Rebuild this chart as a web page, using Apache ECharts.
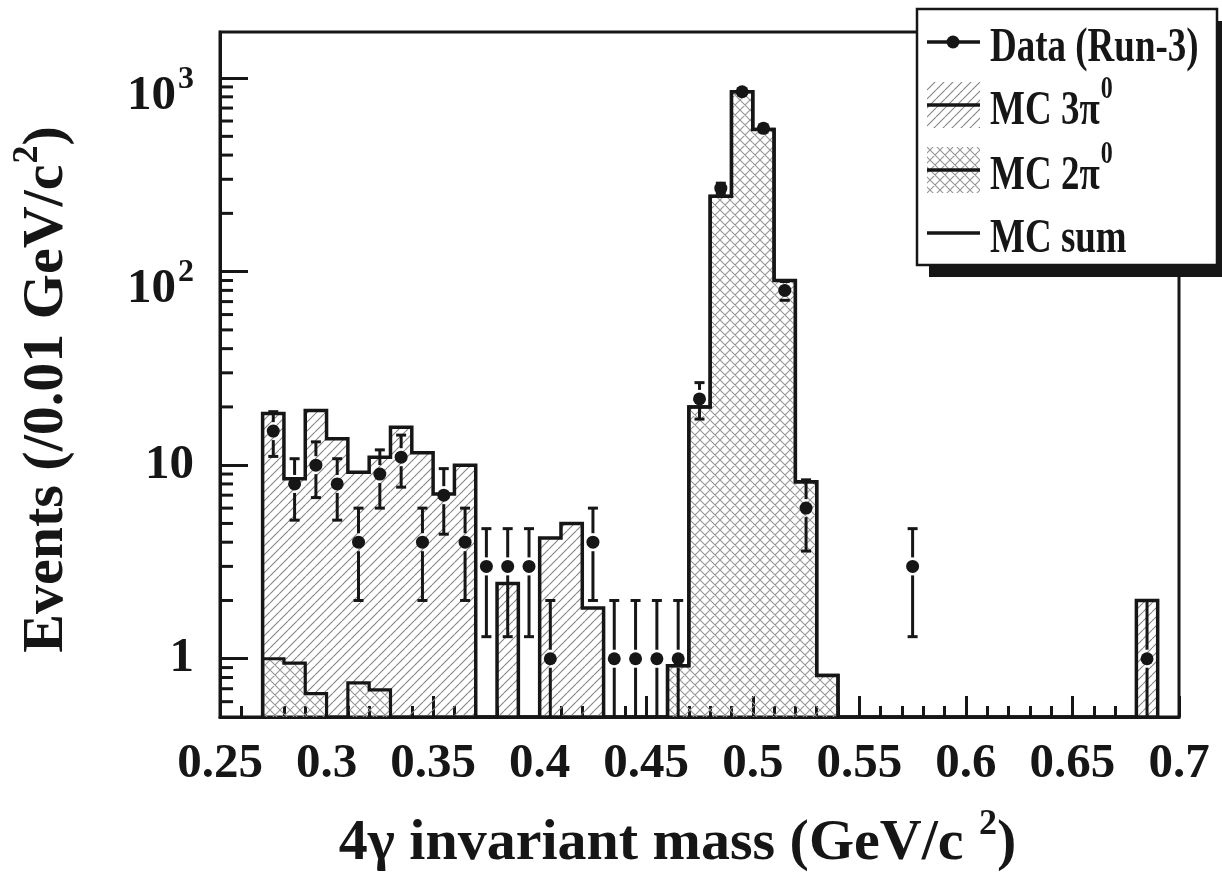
<!DOCTYPE html>
<html><head><meta charset="utf-8">
<script src="https://cdn.jsdelivr.net/npm/echarts@6.0.0/dist/echarts.min.js"></script>
<style>html,body{margin:0;padding:0;background:#fff}#c{width:1222px;height:878px}</style>
</head><body><div id="c"></div>
<script>
// ---------------- data ----------------
const BIN_W = 0.01;
const binLow = [0.27,0.28,0.29,0.30,0.31,0.32,0.33,0.34,0.35,0.36,
                0.37,0.38,0.39,0.40,0.41,0.42,0.43,0.44,0.45,0.46,
                0.47,0.48,0.49,0.50,0.51,0.52,0.53,0.54,0.55,0.56,
                0.57,0.58,0.59,0.60,0.61,0.62,0.63,0.64,0.65,0.66,
                0.67,0.68];
// MC 2pi0 (bottom of the stack)
const mc2pi = [1.0,0.95,0.66,0,0.75,0.69,0,0,0,0,
               0,0,0,0,0,0,0,0,0,0.92,
               20,245,851,543,90,8.2,0.82,0,0,0,
               0,0,0,0,0,0,0,0,0,0,
               0,0];
// MC 3pi0 (stacked on top of 2pi0)
const mc3pi = [17.5,7.55,18.5,13.7,8.45,10.3,15.7,11.6,7.1,10.0,
               0,2.45,0,4.2,5.0,1.83,0,0,0,0,
               0,0,0,0,0,0,0,0,0,0,
               0,0,0,0,0,0,0,0,0,0,
               0,2.0];
// Data (Run-3)
const dataMass   = [0.275,0.285,0.295,0.305,0.315,0.325,0.335,0.345,0.355,0.365,0.375,0.385,0.395,0.405,0.425,0.435,0.445,0.455,0.465,0.475,0.485,0.495,0.505,0.515,0.525,0.575,0.685];
const dataEvents = [15,8,10,8,4,9,11,4,7,4,3,3,3,1,4,1,1,1,1,22,270,850,550,80,6,3,1];
const dataErr    = [3.9,2.8,3.2,2.8,2.0,3.0,3.3,2.0,2.6,2.0,1.7,1.7,1.7,1.0,2.0,1.0,1.0,1.0,1.0,4.7,16.4,29.2,23.5,8.9,2.4,1.7,1.0];
// axis ticks
const xTickLabels = ['0.25','0.3','0.35','0.4','0.45','0.5','0.55','0.6','0.65','0.7'];
const yTickValues = [1,10,100,1000];
const yTickLabels = ['{b|1}','{b|10}','{p|10}{s|2}','{p|10}{s|3}'];
const yMinorTicks = [0.6,0.7,0.8,0.9,2,3,4,5,6,7,8,9,20,30,40,50,60,70,80,90,200,300,400,500,600,700,800,900];

// ---------------- style ----------------
const X_MIN = 0.25, X_MAX = 0.7, Y_MIN = 0.5, Y_MAX = 1730;
const FONT = '"Liberation Serif", "Times New Roman", serif';
const INK = '#161616';

function makePattern(cross, s, color) {
  const c = document.createElement('canvas');
  c.width = s; c.height = s;
  const g = c.getContext('2d');
  g.strokeStyle = color; g.lineWidth = 1.1;
  g.beginPath();
  for (const k of [-1, 0, 1]) {
    g.moveTo(k * s, s); g.lineTo(k * s + s, 0);
    if (cross) { g.moveTo(k * s, 0); g.lineTo(k * s + s, s); }
  }
  g.stroke();
  return c;
}
const hatchImg = makePattern(false, 9, '#858585');
const crossImg = makePattern(true, 10, '#959595');
const hatch = {image: hatchImg, repeat: 'repeat'};
const cross = {image: crossImg, repeat: 'repeat'};

const chart = echarts.init(document.getElementById('c'), null, {renderer: 'canvas'});

function stackTop(i) { return mc2pi[i] + mc3pi[i]; }

function outlineSeries(getVal, lw, z) {
  return {
    type: 'custom', coordinateSystem: 'cartesian2d', clip: true, z: z, silent: true,
    data: [[binLow[0], 1]], encode: {x: 0, y: 1},
    renderItem: function (params, api) {
      const pts = [];
      pts.push(api.coord([binLow[0], Y_MIN]));
      for (let i = 0; i < binLow.length; i++) {
        const v = getVal(i);
        const y = v > 0 ? v : Y_MIN;
        pts.push(api.coord([binLow[i], y]));
        pts.push(api.coord([binLow[i] + BIN_W, y]));
      }
      pts.push(api.coord([binLow[binLow.length - 1] + BIN_W, Y_MIN]));
      return {type: 'polyline', shape: {points: pts},
              style: {fill: null, stroke: INK, lineWidth: lw, lineJoin: 'miter'}};
    }
  };
}

const fill3 = [], fill2 = [];
binLow.forEach((x, i) => {
  if (mc3pi[i] > 0) fill3.push([x, stackTop(i), mc2pi[i]]);
  if (mc2pi[i] > 0) fill2.push([x, mc2pi[i]]);
});

const errData = dataMass.map((m, i) => [m, dataEvents[i], dataErr[i]]);
const R = 6.5;

const textBase = {fontFamily: FONT, fontWeight: 'bold', color: INK};

const option = {
  animation: false,
  backgroundColor: '#fff',
  grid: {left: 220, right: 43, top: 32, bottom: 161, show: true,
         borderColor: INK, borderWidth: 3, backgroundColor: 'transparent'},
  xAxis: {
    type: 'value', min: X_MIN, max: X_MAX, interval: 0.05,
    axisLine: {show: true, onZero: false, lineStyle: {color: INK, width: 3}},
    axisTick: {show: true, inside: true, length: 21, lineStyle: {color: INK, width: 3}},
    minorTick: {show: true, splitNumber: 5, length: 11, lineStyle: {color: INK, width: 3}},
    splitLine: {show: false},
    axisLabel: Object.assign({fontSize: 49, margin: 23,
      formatter: v => xTickLabels[Math.round((v - X_MIN) / 0.05)] || ''}, textBase),
    name: '{b|4γ invariant mass (GeV/c }{s|2}{b|)}',
    nameLocation: 'middle', nameGap: 90,
    nameTextStyle: {padding: [0, 44, 0, 0], rich: {
      b: Object.assign({fontSize: 58, padding: [8, 0, 0, 0], verticalAlign: 'bottom'}, textBase),
      s: Object.assign({fontSize: 36, padding: [0, 0, 0, 1], verticalAlign: 'top'}, textBase)
    }}
  },
  yAxis: {
    type: 'log', logBase: 10, min: Y_MIN, max: Y_MAX,
    axisLine: {show: true, lineStyle: {color: INK, width: 3}},
    axisTick: {show: true, inside: true, length: 28, lineStyle: {color: INK, width: 3}},
    splitLine: {show: false},
    axisLabel: {margin: 26, showMinLabel: false, showMaxLabel: false,
      formatter: function (v) {
        for (let k = 0; k < yTickValues.length; k++) {
          if (Math.abs(v - yTickValues[k]) < 1e-6 * yTickValues[k]) return yTickLabels[k];
        }
        return '';
      },
      rich: {
        b: Object.assign({fontSize: 49}, textBase),
        p: Object.assign({fontSize: 49, padding: [36, 0, 0, 0], verticalAlign: 'bottom'}, textBase),
        s: Object.assign({fontSize: 32, padding: [28, 0, 0, 2], verticalAlign: 'top'}, textBase)
      }
    },
    name: '{b|Events (/0.01 GeV/c}{s|2}{b|)}',
    nameLocation: 'middle', nameGap: 144,
    nameTextStyle: {padding: [0, 30, 0, 0], rich: {
      b: Object.assign({fontSize: 58, padding: [8, 0, 0, 0], verticalAlign: 'bottom'}, textBase),
      s: Object.assign({fontSize: 36, padding: [0, 0, 0, 1], verticalAlign: 'top'}, textBase)
    }}
  },
  series: [
    { // MC 3pi0 hatched layer (stacked on 2pi0)
      type: 'custom', name: 'MC 3π0', coordinateSystem: 'cartesian2d', clip: true, z: 2, silent: true,
      data: fill3, encode: {x: 0, y: 1},
      renderItem: function (params, api) {
        const x0 = api.value(0), top = api.value(1), base = Math.max(api.value(2), Y_MIN);
        const a = api.coord([x0, base]), b = api.coord([x0 + BIN_W, top]);
        return {type: 'rect', shape: {x: a[0], y: b[1], width: b[0] - a[0], height: a[1] - b[1]},
                style: {fill: hatch}};
      }
    },
    { // MC 2pi0 cross-hatched layer
      type: 'custom', name: 'MC 2π0', coordinateSystem: 'cartesian2d', clip: true, z: 2, silent: true,
      data: fill2, encode: {x: 0, y: 1},
      renderItem: function (params, api) {
        const x0 = api.value(0), top = api.value(1);
        const a = api.coord([x0, Y_MIN]), b = api.coord([x0 + BIN_W, top]);
        return {type: 'rect', shape: {x: a[0], y: b[1], width: b[0] - a[0], height: a[1] - b[1]},
                style: {fill: cross}};
      }
    },
    outlineSeries(i => mc2pi[i], 3.2, 3),
    outlineSeries(i => stackTop(i), 3.5, 4),
    { // error bars
      type: 'custom', coordinateSystem: 'cartesian2d', clip: true, z: 5, silent: true,
      data: errData, encode: {x: 0, y: 1},
      renderItem: function (params, api) {
        const x = api.value(0), y = api.value(1), e = api.value(2);
        const c = api.coord([x, y]);
        const hi = api.coord([x, y + e]);
        const lowV = y - e;
        const lo = api.coord([x, Math.max(lowV, Y_MIN)]);
        const gap = R + 2.5;
        const st = {stroke: INK, lineWidth: 3};
        const ch = [];
        if (c[1] - hi[1] > gap) ch.push({type: 'line', shape: {x1: c[0], y1: hi[1], x2: c[0], y2: c[1] - gap}, style: st});
        if (lo[1] - c[1] > gap) ch.push({type: 'line', shape: {x1: c[0], y1: c[1] + gap, x2: c[0], y2: lo[1]}, style: st});
        ch.push({type: 'line', shape: {x1: c[0] - 5, y1: hi[1], x2: c[0] + 5, y2: hi[1]}, style: st});
        if (lowV > Y_MIN) ch.push({type: 'line', shape: {x1: c[0] - 5, y1: lo[1], x2: c[0] + 5, y2: lo[1]}, style: st});
        return {type: 'group', children: ch};
      }
    },
    {
      type: 'scatter', name: 'Data (Run-3)', z: 6, silent: true,
      data: dataMass.map((m, i) => [m, dataEvents[i]]),
      symbol: 'circle', symbolSize: 2 * R, itemStyle: {color: INK, opacity: 1}
    },
    { // minor ticks of the log axis
      type: 'custom', coordinateSystem: 'cartesian2d', clip: false, z: 7, silent: true,
      data: yMinorTicks.map(v => [X_MIN, v]), encode: {x: 0, y: 1},
      renderItem: function (params, api) {
        const p = api.coord([api.value(0), api.value(1)]);
        return {type: 'line', shape: {x1: p[0], y1: p[1], x2: p[0] + 13, y2: p[1]},
                style: {stroke: INK, lineWidth: 3}};
      }
    }
  ],
  graphic: (function () {
    const g = [];
    const Z = 100;
    const tRich = {
      b: {fontSize: 37, fontFamily: FONT, fontWeight: 'bold', fill: INK, padding: [10, 0, 0, 0], verticalAlign: 'bottom'},
      s: {fontSize: 24, fontFamily: FONT, fontWeight: 'bold', fill: INK, padding: [0, 0, 0, 1], verticalAlign: 'top'}
    };
    g.push({type: 'rect', z: Z, shape: {x: 929, y: 21, width: 300, height: 256}, style: {fill: INK}});
    g.push({type: 'rect', z: Z + 1, shape: {x: 917, y: 9, width: 300, height: 256}, style: {fill: '#fff', stroke: INK, lineWidth: 2.5}});
    const rows = [
      {y: 42, text: '{b|Data (Run-3)}', kind: 'data'},
      {y: 105, text: '{b|MC 3π}{s|0}', kind: 'hatch'},
      {y: 170, text: '{b|MC 2π}{s|0}', kind: 'cross'},
      {y: 233, text: '{b|MC sum}', kind: 'line'}
    ];
    rows.forEach(r => {
      if (r.kind === 'hatch' || r.kind === 'cross') {
        g.push({type: 'rect', z: Z + 2, shape: {x: 927, y: r.y - 23, width: 53, height: 46},
                style: {fill: r.kind === 'hatch' ? hatch : cross}});
      }
      g.push({type: 'line', z: Z + 3, shape: {x1: 927, y1: r.y, x2: 980, y2: r.y}, style: {stroke: INK, lineWidth: 3.5}});
      if (r.kind === 'data') g.push({type: 'circle', z: Z + 3, shape: {cx: 953, cy: r.y, r: R}, style: {fill: INK}});
      g.push({type: 'text', z: Z + 3, x: 990, y: r.y, scaleY: 1.3,
              style: {text: r.text, rich: tRich, verticalAlign: 'middle', align: 'left',
                      fontSize: 37, fontFamily: FONT, fontWeight: 'bold', fill: INK}});
    });
    return g;
  })()
};
chart.setOption(option);
</script></body></html>
